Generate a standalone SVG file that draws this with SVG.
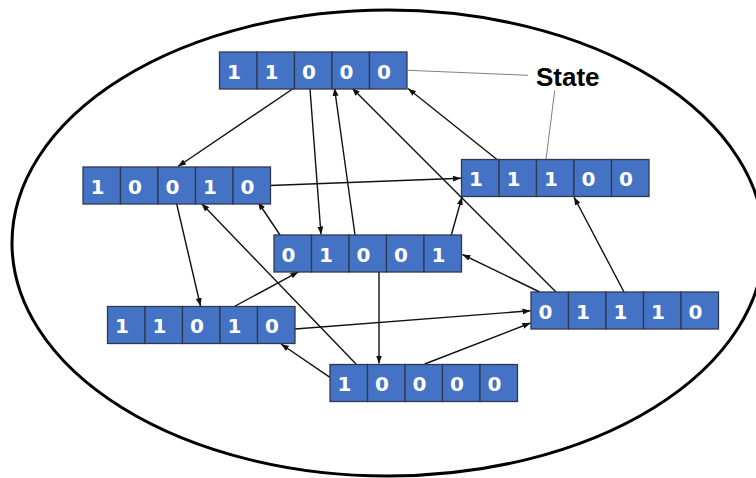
<svg xmlns="http://www.w3.org/2000/svg" width="756" height="478" viewBox="0 0 756 478">
<defs>
<style>
.cell{fill:#4472C4;stroke:#2F3A4F;stroke-width:1.3}
.d{font-family:"DejaVu Sans","Liberation Sans",Arial,sans-serif;font-weight:bold;font-size:20px;fill:#ffffff;text-anchor:middle}
.e{stroke:#111111;stroke-width:1.4;fill:none;marker-end:url(#ah)}
.lead{stroke:#808080;stroke-width:1;fill:none}
</style>
<marker id="ah" markerUnits="userSpaceOnUse" markerWidth="9" markerHeight="7" refX="8" refY="3" orient="auto">
<path d="M0,0 L8,3 L0,6 z" fill="#111111"/>
</marker>
</defs>
<rect width="756" height="478" fill="#ffffff"/>
<ellipse cx="388" cy="243" rx="376" ry="233" fill="none" stroke="#000000" stroke-width="3"/>

<g id="connectors">
<line class="e" x1="294" y1="88" x2="178" y2="166.5"/>
<line class="e" x1="310" y1="89" x2="321" y2="234.5"/>
<line class="e" x1="355" y1="235" x2="334.5" y2="88"/>
<line class="e" x1="556" y1="292" x2="352" y2="88"/>
<line class="e" x1="497" y1="159.5" x2="408" y2="88.5"/>
<line class="e" x1="270" y1="185.5" x2="461" y2="178.3"/>
<line class="e" x1="176.7" y1="204" x2="200.5" y2="306"/>
<line class="e" x1="280" y1="235" x2="258" y2="202"/>
<line class="e" x1="356" y1="364" x2="201.5" y2="203.5"/>
<line class="e" x1="234.3" y1="306.5" x2="298.5" y2="271.8"/>
<line class="e" x1="379" y1="272" x2="379" y2="363.5"/>
<line class="e" x1="451.3" y1="235" x2="462" y2="197"/>
<line class="e" x1="539.7" y1="292" x2="462.5" y2="254.5"/>
<line class="e" x1="624" y1="292" x2="574" y2="197"/>
<line class="e" x1="295" y1="329" x2="530.5" y2="310.8"/>
<line class="e" x1="424.7" y1="364" x2="530.5" y2="323"/>
<line class="e" x1="330" y1="377.3" x2="281" y2="344"/>
</g>

<g id="label">
<line class="lead" x1="408" y1="70.3" x2="528" y2="75.3"/>
<line class="lead" x1="554.7" y1="90.7" x2="546" y2="159.3"/>
<text x="536" y="86" font-family="'Liberation Sans',Arial,sans-serif" font-weight="bold" font-size="26" fill="#000000">State</text>
</g>

<g id="node-11000" transform="translate(219.5,52)">
<rect class="cell" x="0" y="0" width="37.5" height="37"/><rect class="cell" x="37.5" y="0" width="37.5" height="37"/><rect class="cell" x="75" y="0" width="37.5" height="37"/><rect class="cell" x="112.5" y="0" width="37.5" height="37"/><rect class="cell" x="150" y="0" width="37.5" height="37"/>
<text class="d" x="14.5" y="26.5">1</text><text class="d" x="52" y="26.5">1</text><text class="d" x="89.5" y="26.5">0</text><text class="d" x="127" y="26.5">0</text><text class="d" x="164.5" y="26.5">0</text>
</g>

<g id="node-10010" transform="translate(83,167)">
<rect class="cell" x="0" y="0" width="37.5" height="37"/><rect class="cell" x="37.5" y="0" width="37.5" height="37"/><rect class="cell" x="75" y="0" width="37.5" height="37"/><rect class="cell" x="112.5" y="0" width="37.5" height="37"/><rect class="cell" x="150" y="0" width="37.5" height="37"/>
<text class="d" x="14.5" y="26.5">1</text><text class="d" x="52" y="26.5">0</text><text class="d" x="89.5" y="26.5">0</text><text class="d" x="127" y="26.5">1</text><text class="d" x="164.5" y="26.5">0</text>
</g>

<g id="node-01001" transform="translate(274,235)">
<rect class="cell" x="0" y="0" width="37.5" height="37"/><rect class="cell" x="37.5" y="0" width="37.5" height="37"/><rect class="cell" x="75" y="0" width="37.5" height="37"/><rect class="cell" x="112.5" y="0" width="37.5" height="37"/><rect class="cell" x="150" y="0" width="37.5" height="37"/>
<text class="d" x="14.5" y="26.5">0</text><text class="d" x="52" y="26.5">1</text><text class="d" x="89.5" y="26.5">0</text><text class="d" x="127" y="26.5">0</text><text class="d" x="164.5" y="26.5">1</text>
</g>

<g id="node-11100" transform="translate(461.5,159.5)">
<rect class="cell" x="0" y="0" width="37.5" height="37"/><rect class="cell" x="37.5" y="0" width="37.5" height="37"/><rect class="cell" x="75" y="0" width="37.5" height="37"/><rect class="cell" x="112.5" y="0" width="37.5" height="37"/><rect class="cell" x="150" y="0" width="37.5" height="37"/>
<text class="d" x="14.5" y="26.5">1</text><text class="d" x="52" y="26.5">1</text><text class="d" x="89.5" y="26.5">1</text><text class="d" x="127" y="26.5">0</text><text class="d" x="164.5" y="26.5">0</text>
</g>

<g id="node-01110" transform="translate(531,292)">
<rect class="cell" x="0" y="0" width="37.5" height="37"/><rect class="cell" x="37.5" y="0" width="37.5" height="37"/><rect class="cell" x="75" y="0" width="37.5" height="37"/><rect class="cell" x="112.5" y="0" width="37.5" height="37"/><rect class="cell" x="150" y="0" width="37.5" height="37"/>
<text class="d" x="14.5" y="26.5">0</text><text class="d" x="52" y="26.5">1</text><text class="d" x="89.5" y="26.5">1</text><text class="d" x="127" y="26.5">1</text><text class="d" x="164.5" y="26.5">0</text>
</g>

<g id="node-11010" transform="translate(107.5,306.5)">
<rect class="cell" x="0" y="0" width="37.5" height="37"/><rect class="cell" x="37.5" y="0" width="37.5" height="37"/><rect class="cell" x="75" y="0" width="37.5" height="37"/><rect class="cell" x="112.5" y="0" width="37.5" height="37"/><rect class="cell" x="150" y="0" width="37.5" height="37"/>
<text class="d" x="14.5" y="26.5">1</text><text class="d" x="52" y="26.5">1</text><text class="d" x="89.5" y="26.5">0</text><text class="d" x="127" y="26.5">1</text><text class="d" x="164.5" y="26.5">0</text>
</g>

<g id="node-10000" transform="translate(330,364.5)">
<rect class="cell" x="0" y="0" width="37.5" height="37"/><rect class="cell" x="37.5" y="0" width="37.5" height="37"/><rect class="cell" x="75" y="0" width="37.5" height="37"/><rect class="cell" x="112.5" y="0" width="37.5" height="37"/><rect class="cell" x="150" y="0" width="37.5" height="37"/>
<text class="d" x="14.5" y="26.5">1</text><text class="d" x="52" y="26.5">0</text><text class="d" x="89.5" y="26.5">0</text><text class="d" x="127" y="26.5">0</text><text class="d" x="164.5" y="26.5">0</text>
</g>
</svg>
